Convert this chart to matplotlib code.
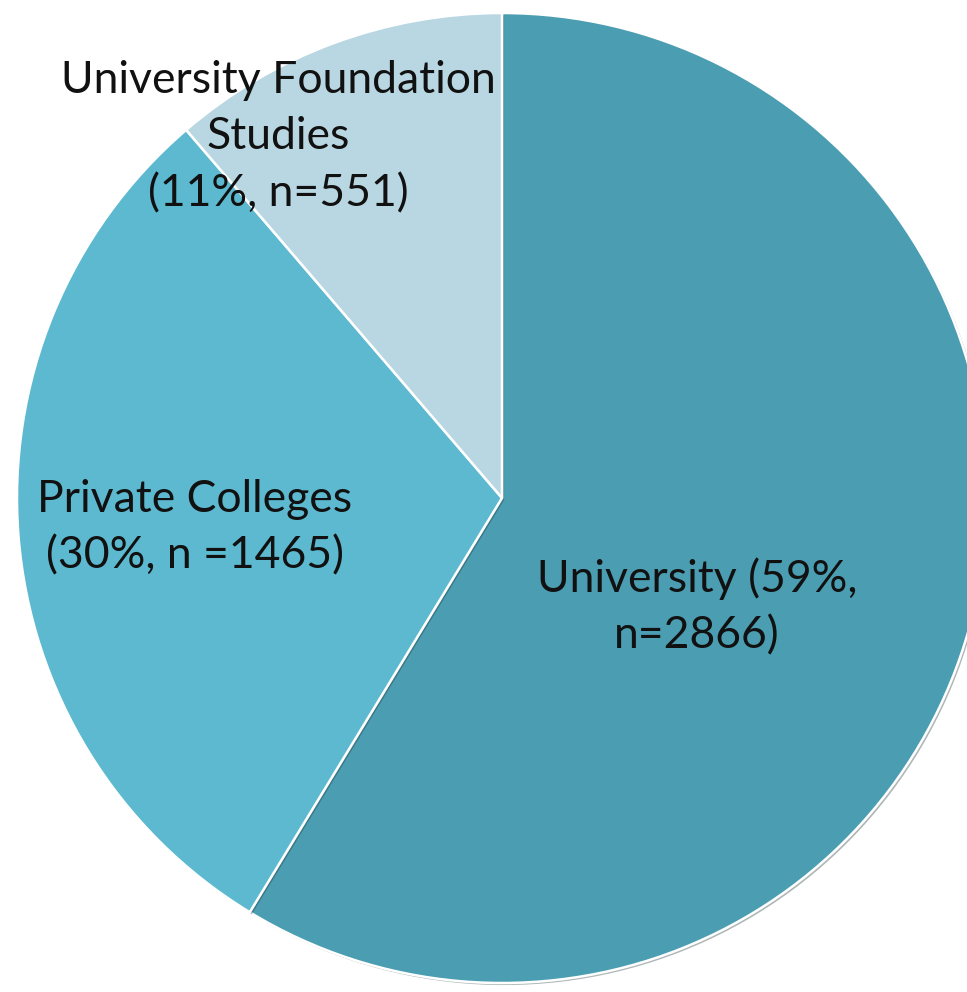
import matplotlib.pyplot as plt
import matplotlib.patheffects as pe

# data
categories = ['University', 'Private Colleges', 'University Foundation Studies']
counts = [2866, 1465, 551]
labels = ['University (59%,\nn=2866)',
          'Private Colleges\n(30%, n =1465)',
          'University Foundation\nStudies\n(11%, n=551)']
colors = ['#4b9db2', '#5db9d0', '#b9d7e2']

W, H = 967, 992
# label positions in pixel coords (x from left, y from top)
label_pos = [(697, 607), (195, 528), (278, 137)]

fig = plt.figure(figsize=(W / 100, H / 100), dpi=100)
ax = fig.add_axes([0, 0, 1, 1])

cx, cy, r = 502, H - 498, 485
wedges, _ = ax.pie(counts, colors=colors, startangle=90, counterclock=False,
                   center=(cx, cy), radius=r, frame=True,
                   wedgeprops=dict(edgecolor='white', linewidth=1.8))
for w in wedges:
    w.set_path_effects([pe.SimplePatchShadow(offset=(1.5, -1.5), alpha=0.35), pe.Normal()])

ax.set_xlim(0, W)
ax.set_ylim(0, H)
ax.set_aspect('equal')
ax.axis('off')

for txt, (x, y) in zip(labels, label_pos):
    ax.text(x, H - y, txt, ha='center', va='center', multialignment='center',
            fontsize=32, family='Lato', linespacing=1.47, color='#111111')

fig.savefig('out.png', dpi=100)
